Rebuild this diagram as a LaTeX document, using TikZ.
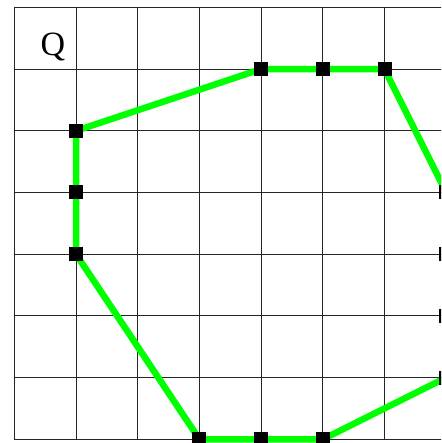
\documentclass[tikz,border=0pt]{standalone}
\usepackage{fontspec}
\setmainfont{Liberation Serif}
\begin{document}
\begin{tikzpicture}[x=1pt,y=1pt,
  gridline/.style={draw=black!85,line width=1pt},
  poly/.style={draw={rgb,255:red,0;green,255;blue,0},line width=6.5pt},
  sq/.style={fill=black,draw=none,minimum size=14pt,inner sep=0pt,outer sep=0pt},
  lbl/.style={font=\fontsize{34}{40}\selectfont,inner sep=0pt,anchor=base}]
\useasboundingbox (0,0) rectangle (441,443);
\fill[white] (0,0) rectangle (441,443);
\clip (0,0) rectangle (441,443);
\begin{scope}[shift={(14.3,3.7)},x=61.7pt,y=61.7pt]
  \foreach \i in {0,...,7} \draw[gridline] (\i,0) -- (\i,7);
  \foreach \j in {0,...,7} \draw[gridline] (0,\j) -- (7.5,\j);
  \coordinate (p1) at (4,6);
  \coordinate (p2) at (5,6);
  \coordinate (p3) at (6,6);
  \coordinate (p4) at (7,4);
  \coordinate (p5) at (7,3);
  \coordinate (p6) at (7,2);
  \coordinate (p7) at (7,1);
  \coordinate (p8) at (5,0);
  \coordinate (p9) at (4,0);
  \coordinate (p10) at (3,0);
  \coordinate (p11) at (1,3);
  \coordinate (p12) at (1,4);
  \coordinate (p13) at (1,5);
  \draw[poly] (p1) -- (p2) -- (p3) -- (p4) -- (p5) -- (p6) -- (p7) -- (p8) -- (p9) -- (p10) -- (p11) -- (p12) -- (p13) -- cycle;
  \foreach \k in {1,...,13} \node[sq] (s\k) at (p\k) {};
\end{scope}
\node[lbl] (q) at (53,387) {Q};
\end{tikzpicture}
\end{document}
